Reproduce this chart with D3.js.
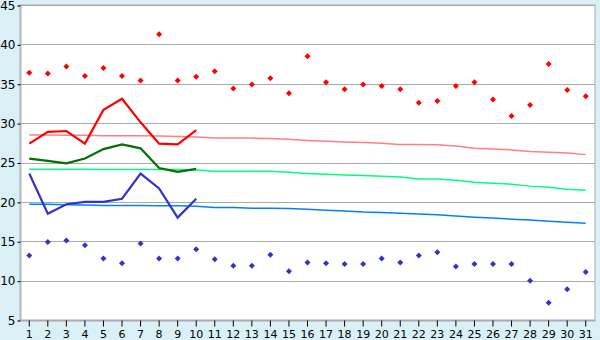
<!DOCTYPE html>
<html>
<head>
<meta charset="utf-8">
<script src="https://cdn.jsdelivr.net/npm/d3@7"></script>
<style>
  body { margin: 0; background: #d9f0f6; }
  svg { display: block; }
  text { font-family: "DejaVu Sans", Verdana, sans-serif; font-size: 11px; fill: #000; }
</style>
</head>
<body>
<svg id="chart"></svg>
<script>
// days of the month
var days = d3.range(1, 32);
var yTicks = [5, 10, 15, 20, 25, 30, 35, 40, 45];

// record highs / lows per day
var recMax = [36.4, 36.3, 37.2, 36.0, 37.0, 36.0, 35.4, 41.3, 35.4, 35.9, 36.6, 34.4, 34.9, 35.7, 33.8, 38.5,
              35.2, 34.3, 34.9, 34.7, 34.3, 32.6, 32.8, 34.7, 35.2, 33.0, 30.9, 32.3, 37.5, 34.2, 33.4];
var recMin = [13.2, 14.9, 15.1, 14.5, 12.8, 12.2, 14.7, 12.8, 12.8, 14.0, 12.7, 11.9, 11.9, 13.3, 11.2, 12.3,
              12.2, 12.1, 12.1, 12.8, 12.3, 13.2, 13.6, 11.8, 12.1, 12.1, 12.1, 10.0, 7.2, 8.9, 11.1];

// this month's observed values (first 10 days)
var obsMax = [27.4, 28.9, 29.0, 27.4, 31.7, 33.1, 30.1, 27.4, 27.3, 29.1];
var obsAvg = [25.5, 25.2, 24.9, 25.5, 26.7, 27.3, 26.8, 24.3, 23.8, 24.2];
var obsMin = [23.6, 18.5, 19.7, 20.0, 20.0, 20.4, 23.6, 21.7, 18.0, 20.4];

// normals
var normMax = [28.5, 28.5, 28.45, 28.45, 28.4, 28.4, 28.4, 28.35, 28.3, 28.25, 28.1, 28.1, 28.1, 28.05, 27.95, 27.8,
               27.7, 27.6, 27.55, 27.45, 27.3, 27.3, 27.25, 27.1, 26.8, 26.7, 26.6, 26.4, 26.3, 26.2, 26.0];
var normAvg = [24.15, 24.15, 24.15, 24.15, 24.1, 24.1, 24.1, 24.1, 24.1, 24.05, 23.9, 23.9, 23.9, 23.9, 23.75, 23.6,
               23.5, 23.4, 23.35, 23.25, 23.15, 22.9, 22.9, 22.75, 22.5, 22.35, 22.25, 22.0, 21.85, 21.6, 21.47];
var normMin = [19.7, 19.7, 19.65, 19.6, 19.55, 19.55, 19.55, 19.5, 19.5, 19.45, 19.3, 19.3, 19.2, 19.2, 19.15, 19.05,
               18.95, 18.85, 18.7, 18.65, 18.55, 18.45, 18.35, 18.2, 18.05, 17.95, 17.8, 17.7, 17.55, 17.4, 17.28];

var W = 600, H = 340;
var m = {top: 5, right: 5, bottom: 20, left: 20};

var svg = d3.select("#chart").attr("width", W).attr("height", H);

var x = d3.scaleBand().domain(days).range([m.left, W - m.right]);
var y = d3.scaleLinear().domain([5, 45]).range([H - m.bottom, m.top]);
var cx = d => x(d) + x.bandwidth() / 2;

// plot background
svg.append("rect")
    .attr("x", m.left).attr("y", m.top)
    .attr("width", W - m.left - m.right).attr("height", H - m.top - m.bottom)
    .attr("fill", "#fff").attr("stroke", "#aaa");

// gridlines
svg.append("g").selectAll("line").data(yTicks).enter().append("line")
    .attr("x1", m.left).attr("x2", W - m.right)
    .attr("y1", d => Math.round(y(d)) + 0.5).attr("y2", d => Math.round(y(d)) + 0.5)
    .attr("stroke", "#aaa");

// y axis
var yAxis = svg.append("g")
    .attr("transform", "translate(" + (m.left + 0.5) + ",0.5)")
    .call(d3.axisLeft(y).tickValues(yTicks).tickSize(3).tickPadding(2));
yAxis.select(".domain").attr("stroke", "#aaa");
yAxis.selectAll(".tick line").attr("stroke", "#000");
yAxis.selectAll("text").style("font-size", "12px").attr("fill", "#000");

// x axis
var xAxis = svg.append("g")
    .attr("transform", "translate(0," + (H - m.bottom + 0.5) + ")")
    .call(d3.axisBottom(x).tickSize(6).tickPadding(4).tickSizeOuter(0));
xAxis.select(".domain").attr("stroke", "#aaa");
xAxis.selectAll(".tick line").attr("stroke", "#000");
xAxis.selectAll("text").attr("fill", "#000");

// lines
function drawLine(vals, color, width) {
    var line = d3.line().x((d, i) => cx(days[i])).y(d => y(d));
    svg.append("path").datum(vals)
        .attr("d", line)
        .attr("fill", "none")
        .attr("stroke", color)
        .attr("stroke-width", width);
}
drawLine(normMax, "#ff8080", 1.5);
drawLine(normAvg, "#00ff80", 1.5);
drawLine(normMin, "#0080ff", 1.5);

drawLine(obsMax, "#ff0000", 2.2);
drawLine(obsAvg, "#007000", 2.2);
drawLine(obsMin, "#3333cc", 2.2);

// record markers: small square diamonds
function drawMarks(vals, color) {
    svg.append("g").selectAll("path").data(vals).enter().append("path")
        .attr("d", d3.symbol().type(d3.symbolSquare).size(18))
        .attr("transform", (d, i) => "translate(" + cx(days[i]) + "," + y(d) + ") rotate(45)")
        .attr("fill", color);
}
drawMarks(recMax, "#ff0000");
drawMarks(recMin, "#3333cc");
</script>
</body>
</html>
